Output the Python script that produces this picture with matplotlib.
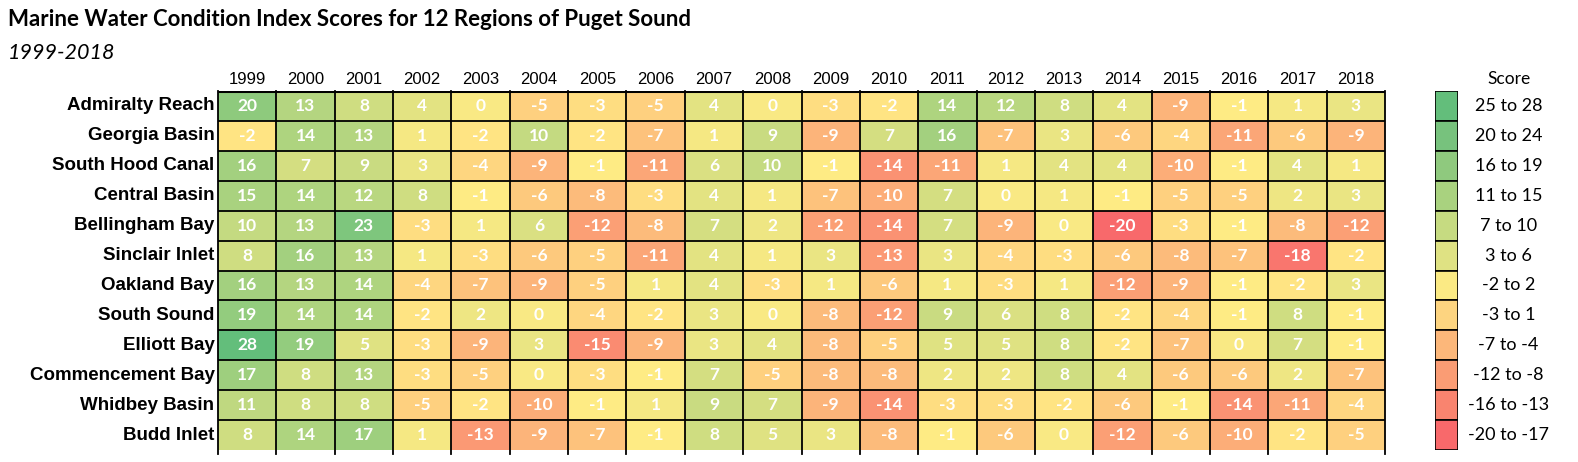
import numpy as np
import matplotlib
matplotlib.use('Agg')
import matplotlib.pyplot as plt
from matplotlib.colors import LinearSegmentedColormap, TwoSlopeNorm

years = [str(y) for y in range(1999, 2019)]
regions = ['Admiralty Reach', 'Georgia Basin', 'South Hood Canal', 'Central Basin',
           'Bellingham Bay', 'Sinclair Inlet', 'Oakland Bay', 'South Sound',
           'Elliott Bay', 'Commencement Bay', 'Whidbey Basin', 'Budd Inlet']

admiralty = [20, 13, 8, 4, 0, -5, -3, -5, 4, 0, -3, -2, 14, 12, 8, 4, -9, -1, 1, 3]
georgia = [-2, 14, 13, 1, -2, 10, -2, -7, 1, 9, -9, 7, 16, -7, 3, -6, -4, -11, -6, -9]
south_hood = [16, 7, 9, 3, -4, -9, -1, -11, 6, 10, -1, -14, -11, 1, 4, 4, -10, -1, 4, 1]
central = [15, 14, 12, 8, -1, -6, -8, -3, 4, 1, -7, -10, 7, 0, 1, -1, -5, -5, 2, 3]
bellingham = [10, 13, 23, -3, 1, 6, -12, -8, 7, 2, -12, -14, 7, -9, 0, -20, -3, -1, -8, -12]
sinclair = [8, 16, 13, 1, -3, -6, -5, -11, 4, 1, 3, -13, 3, -4, -3, -6, -8, -7, -18, -2]
oakland = [16, 13, 14, -4, -7, -9, -5, 1, 4, -3, 1, -6, 1, -3, 1, -12, -9, -1, -2, 3]
south_sound = [19, 14, 14, -2, 2, 0, -4, -2, 3, 0, -8, -12, 9, 6, 8, -2, -4, -1, 8, -1]
elliott = [28, 19, 5, -3, -9, 3, -15, -9, 3, 4, -8, -5, 5, 5, 8, -2, -7, 0, 7, -1]
commencement = [17, 8, 13, -3, -5, 0, -3, -1, 7, -5, -8, -8, 2, 2, 8, 4, -6, -6, 2, -7]
whidbey = [11, 8, 8, -5, -2, -10, -1, 1, 9, 7, -9, -14, -3, -3, -2, -6, -1, -14, -11, -4]
budd = [8, 14, 17, 1, -13, -9, -7, -1, 8, 5, 3, -8, -1, -6, 0, -12, -6, -10, -2, -5]

legend_labels = ['25 to 28', '20 to 24', '16 to 19', '11 to 15', '7 to 10', '3 to 6',
                 '-2 to 2', '-3 to 1', '-7 to -4', '-12 to -8', '-16 to -13', '-20 to -17']
legend_colors = ['#63BE7B', '#77C27D', '#8FC97E', '#A9D27F', '#C6DB81', '#DFE283',
                 '#FBEA84', '#FDD480', '#FCB77A', '#FA9C74', '#F9846F', '#F8696B']

scores = np.array([admiralty, georgia, south_hood, central, bellingham, sinclair,
                   oakland, south_sound, elliott, commencement, whidbey, budd])

# excel style 3-colour scale: red (min) -> yellow (median) -> green (max)
cmap = LinearSegmentedColormap.from_list('ryg', ['#F8696B', '#FFEB84', '#63BE7B'])
norm = TwoSlopeNorm(vmin=scores.min(), vcenter=np.percentile(scores, 50), vmax=scores.max())

W, H = 1578, 462
fig = plt.figure(figsize=(W / 100, H / 100), dpi=100)

top, bot = 91, 450
ax = fig.add_axes([218 / W, (H - bot) / H, (1385 - 218) / W, (bot - top) / H])
nr, nc = scores.shape
ax.pcolormesh(np.arange(nc + 1), np.arange(nr + 1), scores, cmap=cmap, norm=norm)
ax.set_xlim(0, nc)
ax.set_ylim(nr, 0)
ax.set_axis_off()

for i in range(nr):
    for j in range(nc):
        ax.text(j + 0.5, i + 0.5, str(scores[i, j]), ha='center', va='center',
                color='white', fontsize=12.5, fontweight='bold', family='Lato')

for i in range(nr):
    lw = 2.2 if i == 0 else 1.3
    ax.plot([0, nc], [i, i], color='black', lw=lw, solid_capstyle='butt')
for j in range(nc + 1):
    ax.plot([j, j], [0, nr + 0.12], color='black', lw=1.3, clip_on=False)

for j, y in enumerate(years):
    ax.text(j + 0.5, -0.4, y, ha='center', va='center', fontsize=12,
            family='Liberation Sans')
for i, r in enumerate(regions):
    ax.text(-0.06, i + 0.5, r, ha='right', va='center', fontsize=13.5, fontweight='bold',
            family='Liberation Sans')

# legend
lax = fig.add_axes([1435 / W, (H - bot) / H, 23 / W, (bot - top) / H])
lax.set_xlim(0, 1)
lax.set_ylim(len(legend_labels), 0)
lax.set_axis_off()
for k, (lab, c) in enumerate(zip(legend_labels, legend_colors)):
    lax.bar(0.5, 1, width=1, bottom=k, color=c, edgecolor='black', lw=1.2)
    lax.text(3.2, k + 0.5, lab, ha='center', va='center', fontsize=13, family='Lato')
lax.text(3.2, -0.4, 'Score', ha='center', va='center', fontsize=12.5, family='Lato')

fig.text(8 / W, 1 - 20 / H, 'Marine Water Condition Index Scores for 12 Regions of Puget Sound',
         ha='left', va='center', fontsize=16, fontweight='bold', family='Lato')
fig.text(8 / W, 1 - 53 / H, '1999-2018', ha='left', va='center', fontsize=15.5,
         style='italic', family='Lato')

fig.savefig('out.png', dpi=100)
